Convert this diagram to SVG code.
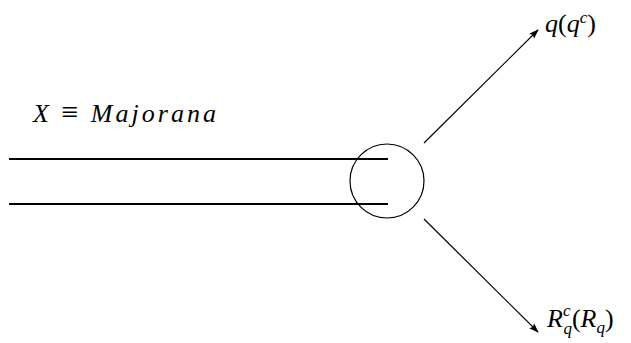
<svg xmlns="http://www.w3.org/2000/svg" width="631" height="343" viewBox="0 0 631 343">
<style>
.t{font-family:"Liberation Serif","DejaVu Serif",serif;font-style:italic;font-size:26px;fill:#000}
.r{font-style:normal}
.s{font-size:17px}
.ln{stroke:#000;fill:none}
</style>
<defs>
<marker id="ah" viewBox="0 0 10 10" refX="9" refY="5" markerWidth="10" markerHeight="10" markerUnits="userSpaceOnUse" orient="auto">
<path d="M0,1.5 L10,5 L0,8.5 L2,5 Z" fill="#000"/>
</marker>
</defs>
<rect width="631" height="343" fill="#fff"/>
<g id="label">
<text class="t" x="33" y="122" textLength="183" lengthAdjust="spacing">X <tspan class="r" font-size="30">≡</tspan> Majorana</text>
</g>
<g id="vertex">
<circle cx="387" cy="181" r="37" class="ln" stroke-width="1.2"/>
</g>
<g id="connectors">
<line x1="9" y1="159" x2="388" y2="159" class="ln" stroke-width="2.2"/>
<line x1="9" y1="204" x2="388" y2="204" class="ln" stroke-width="2.2"/>
<line x1="424" y1="143" x2="538" y2="30" class="ln" stroke-width="1.2" marker-end="url(#ah)"/>
<line x1="424" y1="219" x2="538" y2="332" class="ln" stroke-width="1.2" marker-end="url(#ah)"/>
</g>
<g id="out1">
<text class="t" x="545" y="32">q<tspan class="r">(</tspan>q<tspan class="s" dy="-9">c</tspan><tspan class="r" dy="9">)</tspan></text>
</g>
<g id="out2">
<text class="t" x="547" y="327">R<tspan class="s" dy="-11">c</tspan><tspan class="s" dx="-7" dy="18">q</tspan><tspan class="r" dy="-7">(</tspan>R<tspan class="s" dy="6">q</tspan><tspan class="r" dy="-6">)</tspan></text>
</g>
</svg>
